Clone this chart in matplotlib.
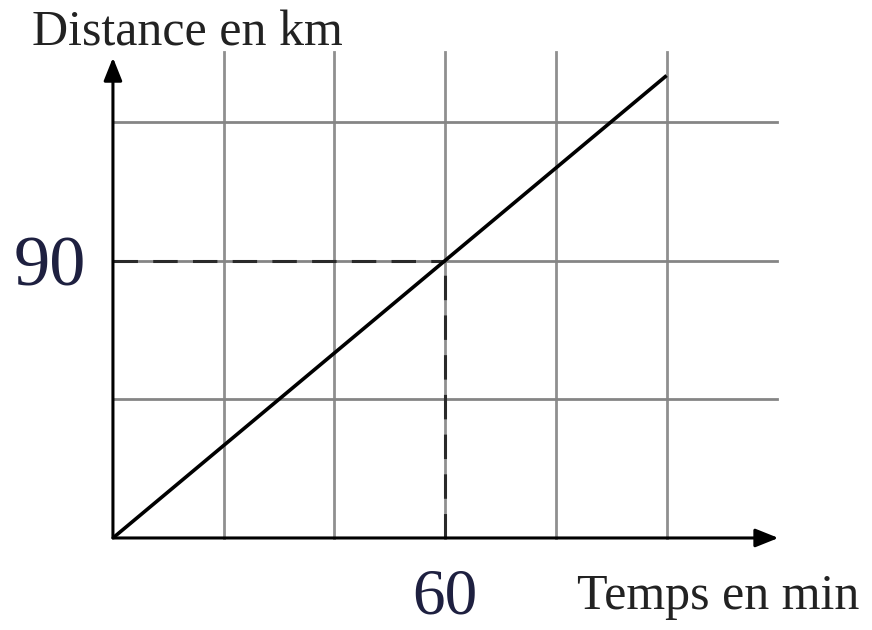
import matplotlib.pyplot as plt

# Data
temps = [0, 100]          # minutes
distance = [0, 150]       # km
t_point, d_point = 60, 90

grid_x = [20, 40, 60, 80, 100]
grid_y = [45, 90, 135]
x_end, y_end = 120, 157.5

plt.rcParams['font.family'] = ['Liberation Serif', 'DejaVu Serif']

fig = plt.figure(figsize=(8.72, 6.30), dpi=100)
ax = fig.add_axes([0, 0, 1, 1])
ax.set_xlim(-20.4, 137.1)
ax.set_ylim(-29.85, 174.5)
ax.axis('off')

# grid
for gx in grid_x:
    ax.plot([gx, gx], [0, y_end], color='#8f8f8f', lw=2.0, zorder=1)
for gy in grid_y:
    ax.plot([0, x_end], [gy, gy], color='#858585', lw=2.0, zorder=1)

# axes with arrows
arrow = dict(arrowstyle='-|>,head_length=0.7,head_width=0.28', color='black',
             lw=2.2, mutation_scale=20, shrinkA=0, shrinkB=0)
ax.annotate('', xy=(120.2, 0), xytext=(0, 0), arrowprops=arrow, zorder=3)
ax.annotate('', xy=(0, 155.8), xytext=(0, 0), arrowprops=arrow, zorder=3)

# dashed reading lines
ax.plot([0, t_point], [d_point, d_point], color='#2a2a2a', lw=2.2,
        linestyle=(0, (8, 5)), zorder=2)
ax.plot([t_point, t_point], [0, d_point], color='#2a2a2a', lw=2.2,
        linestyle=(0, (8, 5)), zorder=2)

# main line
ax.plot(temps, distance, color='black', lw=2.6, zorder=4,
        solid_capstyle='butt')

# labels
ax.text(-14.6, 159.6, 'Distance en km', fontsize=36, color='#222222',
        ha='left', va='baseline')
ax.text(83.8, -23.0, 'Temps en min', fontsize=36, color='#222222',
        ha='left', va='baseline')
ax.text(-4.9, 82.0, '90', fontsize=52, color='#1e2040',
        ha='right', va='baseline')
ax.text(t_point, -24.6, '60', fontsize=47, color='#1e2040',
        ha='center', va='baseline')

plt.savefig('out.png', dpi=100)
